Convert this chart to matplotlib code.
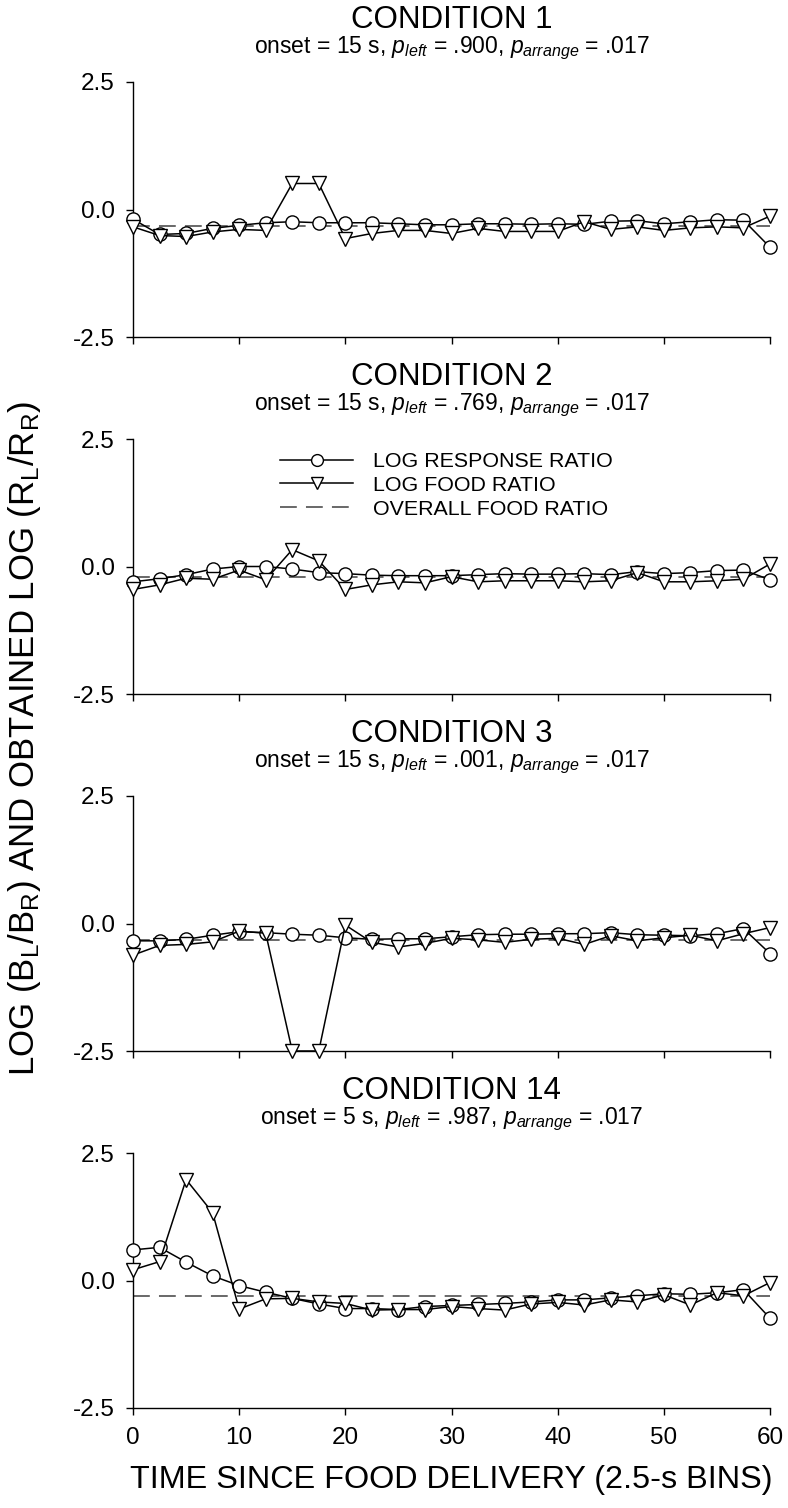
import numpy as np
import matplotlib
matplotlib.use('Agg')
import matplotlib.pyplot as plt
from matplotlib.lines import Line2D

plt.rcParams['font.family'] = ['Liberation Sans', 'DejaVu Sans']
plt.rcParams['mathtext.fontset'] = 'custom'
plt.rcParams['mathtext.rm'] = 'Liberation Sans'
plt.rcParams['mathtext.it'] = 'Liberation Sans:italic'
plt.rcParams['axes.unicode_minus'] = False

# time bins (s)
bins = [0, 2.5, 5, 7.5, 10, 12.5, 15, 17.5, 20, 22.5, 25, 27.5, 30, 32.5,
        35, 37.5, 40, 42.5, 45, 47.5, 50, 52.5, 55, 57.5, 60]

titles = ['CONDITION 1', 'CONDITION 2', 'CONDITION 3', 'CONDITION 14']
onsets = ['15', '15', '15', '5']
p_left = ['.900', '.769', '.001', '.987']
p_arrange = ['.017', '.017', '.017', '.017']

# log response ratio
resp1 = [-0.19, -0.49, -0.47, -0.37, -0.31, -0.26, -0.24, -0.26, -0.26, -0.26, -0.28, -0.30, -0.30,
         -0.28, -0.28, -0.29, -0.28, -0.29, -0.23, -0.22, -0.28, -0.24, -0.20, -0.21, -0.74]
resp2 = [-0.30, -0.24, -0.16, -0.05, 0.00, 0.00, -0.05, -0.12, -0.14, -0.17, -0.18, -0.18, -0.18,
         -0.16, -0.14, -0.15, -0.15, -0.14, -0.16, -0.10, -0.14, -0.12, -0.08, -0.07, -0.26]
resp3 = [-0.34, -0.34, -0.31, -0.23, -0.16, -0.18, -0.21, -0.23, -0.28, -0.31, -0.30, -0.30, -0.26,
         -0.22, -0.21, -0.21, -0.20, -0.20, -0.18, -0.22, -0.23, -0.24, -0.20, -0.10, -0.59]
resp14 = [0.60, 0.65, 0.36, 0.09, -0.10, -0.23, -0.35, -0.46, -0.55, -0.55, -0.57, -0.51, -0.49,
          -0.47, -0.45, -0.42, -0.38, -0.38, -0.34, -0.30, -0.26, -0.27, -0.24, -0.18, -0.74]

# log food ratio
food1 = [-0.34, -0.51, -0.53, -0.44, -0.39, -0.41, 0.51, 0.51, -0.57, -0.47, -0.41, -0.41, -0.47,
         -0.37, -0.43, -0.43, -0.43, -0.24, -0.39, -0.34, -0.41, -0.36, -0.34, -0.36, -0.13]
food2 = [-0.45, -0.36, -0.23, -0.25, -0.07, -0.26, 0.33, 0.11, -0.45, -0.36, -0.30, -0.32, -0.20,
         -0.30, -0.28, -0.28, -0.28, -0.30, -0.28, -0.12, -0.30, -0.30, -0.28, -0.25, 0.05]
food3 = [-0.62, -0.43, -0.41, -0.36, -0.15, -0.19, -2.5, -2.5, -0.03, -0.37, -0.46, -0.39, -0.29,
         -0.32, -0.37, -0.31, -0.29, -0.41, -0.24, -0.34, -0.28, -0.23, -0.34, -0.20, -0.08]
food14 = [0.21, 0.37, 1.98, 1.33, -0.56, -0.36, -0.35, -0.42, -0.45, -0.58, -0.57, -0.57, -0.51,
          -0.55, -0.58, -0.46, -0.43, -0.48, -0.38, -0.42, -0.28, -0.48, -0.24, -0.30, -0.04]

# overall food ratio
overall = [-0.33, -0.20, -0.33, -0.30]

resp_all = [resp1, resp2, resp3, resp14]
food_all = [food1, food2, food3, food14]

W, H = 788, 1508
fig = plt.figure(figsize=(W / 100, H / 100), dpi=100)

left, right = 133, 770
tops = [82, 439, 796, 1153]
ph = 255

for i in range(4):
    top = tops[i]
    ax = fig.add_axes([left / W, 1 - (top + ph) / H, (right - left) / W, ph / H])
    ax.axhline(overall[i], color='#404040', lw=1.1, dashes=(11, 6), zorder=1)
    ax.plot(bins, resp_all[i], '-o', color='black', lw=1.1, ms=9.5, mfc='white',
            mec='black', mew=1.0, clip_on=False, zorder=3)
    ax.plot(bins, food_all[i], '-v', color='black', lw=1.1, ms=10, mfc='white',
            mec='black', mew=1.0, clip_on=False, zorder=4)
    ax.set_xlim(0, 60)
    ax.set_ylim(-2.5, 2.5)
    ax.set_yticks([-2.5, 0, 2.5])
    ax.set_yticklabels(['-2.5', '0.0', '2.5'])
    ax.set_xticks([0, 10, 20, 30, 40, 50, 60])
    for s in ['top', 'right']:
        ax.spines[s].set_visible(False)
    for s in ['left', 'bottom']:
        ax.spines[s].set_linewidth(1.0)
    ax.tick_params(direction='out', length=5, width=1.0, labelsize=17.5, pad=8)
    if i < 3:
        ax.set_xticklabels([])
    else:
        ax.tick_params(axis='x', pad=9)
    cx = (left + right) / 2 / W
    fig.text(cx, 1 - (top - 62) / H, titles[i], ha='center', va='center', fontsize=22.5)
    sub = ('onset = %s s, $p_{left}$ = %s, $p_{arrange}$ = %s'
           % (onsets[i], p_left[i], p_arrange[i]))
    fig.text(cx, 1 - (top - 34) / H, sub, ha='center', va='center', fontsize=16.5)

    if i == 1:
        handles = [
            Line2D([], [], color='black', lw=1.1, marker='o', ms=8.5, mfc='white', mec='black'),
            Line2D([], [], color='black', lw=1.1, marker='v', ms=8.5, mfc='white', mec='black'),
            Line2D([], [], color='#404040', lw=1.1, dashes=(11, 6)),
        ]
        ax.legend(handles, ['LOG RESPONSE RATIO', 'LOG FOOD RATIO', 'OVERALL FOOD RATIO'],
                  loc='upper left', bbox_to_anchor=(0.231, 0.948), frameon=False,
                  fontsize=15.4, handlelength=3.4, handletextpad=0.95, labelspacing=0.22,
                  borderpad=0, borderaxespad=0)

fig.text(451 / W, 1 - 1480 / H, 'TIME SINCE FOOD DELIVERY (2.5-s BINS)',
         ha='center', va='center', fontsize=23.3)
fig.text(25 / W, 1 - 738 / H,
         r'LOG (B$_\mathrm{L}$/B$_\mathrm{R}$) AND OBTAINED LOG (R$_\mathrm{L}$/R$_\mathrm{R}$)',
         ha='center', va='center', rotation=90, fontsize=25)

fig.savefig('out.png', dpi=100)
